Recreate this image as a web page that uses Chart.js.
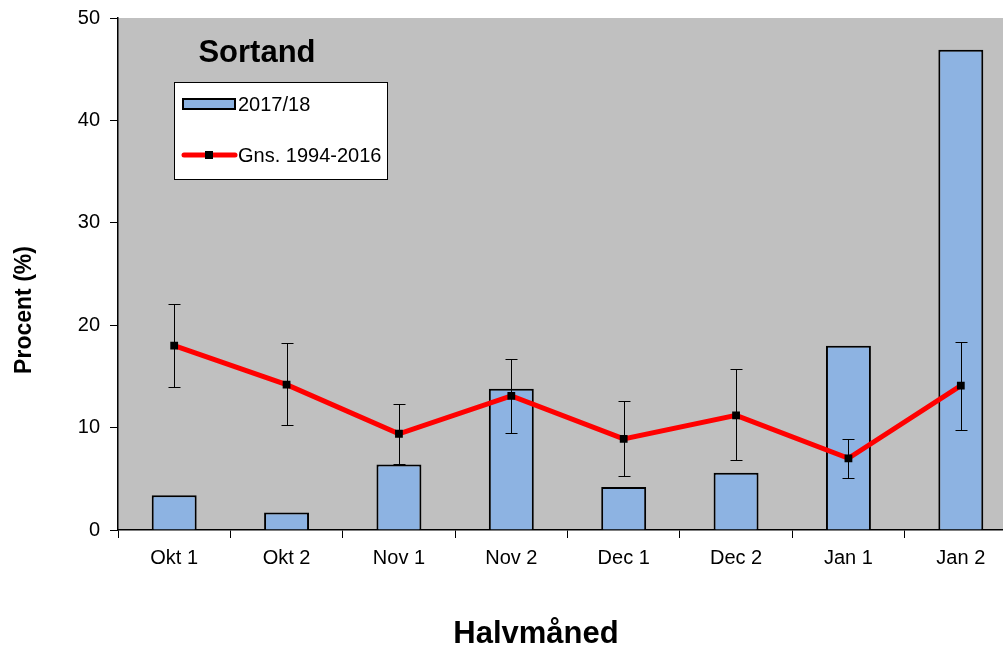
<!DOCTYPE html>
<html>
<head>
<meta charset="utf-8">
<script src="https://cdn.jsdelivr.net/npm/chart.js@4.4.1/dist/chart.umd.min.js"></script>
<style>
html,body{margin:0;padding:0;background:#fff;overflow:hidden;}
#wrap{width:1003px;height:647px;overflow:hidden;position:relative;}
#c{position:absolute;left:0;top:0;}
</style>
</head>
<body>
<div id="wrap"><canvas id="c" width="1017" height="647" style="width:1017px;height:647px"></canvas></div>
<script>
const categories = ['Okt 1','Okt 2','Nov 1','Nov 2','Dec 1','Dec 2','Jan 1','Jan 2'];
const bars2017 = [3.4, 1.7, 6.4, 13.8, 4.2, 5.6, 18.0, 46.9];
const avg19942016 = [18.0, 14.2, 9.4, 13.1, 8.9, 11.2, 7.0, 14.1];
const errHigh = [22.1, 18.3, 12.3, 16.7, 12.6, 15.7, 8.9, 18.4];
const errLow = [14.0, 10.3, 6.4, 9.5, 5.3, 6.8, 5.1, 9.8];
const yTicks = [0, 10, 20, 30, 40, 50];
const seriesNames = ['2017/18', 'Gns. 1994-2016'];
const chartTitle = 'Sortand';
const xTitle = 'Halvmåned';
const yTitle = 'Procent (%)';

const FONT = '"Liberation Sans", Arial, sans-serif';
const BAR_COLOR = '#8DB3E2';

const bgPlugin = {
  id: 'bg',
  beforeDraw(chart) {
    const {ctx, chartArea: a} = chart;
    ctx.save();
    ctx.fillStyle = '#C0C0C0';
    ctx.fillRect(a.left, a.top, a.right - a.left, a.bottom - a.top);
    ctx.restore();
  }
};

const errPlugin = {
  id: 'errbars',
  afterDatasetDraw(chart, args) {
    if (args.index !== 1) return;
    const {ctx} = chart;
    const xs = chart.scales.x, ys = chart.scales.y;
    ctx.save();
    ctx.strokeStyle = '#000';
    ctx.lineWidth = 1;
    categories.forEach((c, i) => {
      const x = Math.round(xs.getPixelForValue(i)) + 0.5;
      const yh = Math.round(ys.getPixelForValue(errHigh[i])) + 0.5;
      const yl = Math.round(ys.getPixelForValue(errLow[i])) + 0.5;
      ctx.beginPath();
      ctx.moveTo(x, yh); ctx.lineTo(x, yl);
      ctx.moveTo(x - 6, yh); ctx.lineTo(x + 6, yh);
      ctx.moveTo(x - 6, yl); ctx.lineTo(x + 6, yl);
      ctx.stroke();
    });
    ctx.restore();
  }
};

const overlayPlugin = {
  id: 'overlay',
  afterDraw(chart) {
    const {ctx} = chart;
    ctx.save();
    // title
    ctx.fillStyle = '#000';
    ctx.font = 'bold 31px ' + FONT;
    ctx.textAlign = 'center';
    ctx.textBaseline = 'middle';
    ctx.fillText(chartTitle, 257, 53);
    // axis titles
    ctx.font = 'bold 31px ' + FONT;
    ctx.fillText(xTitle, 536, 634);
    ctx.save();
    ctx.translate(25, 310);
    ctx.rotate(-Math.PI / 2);
    ctx.font = 'bold 23px ' + FONT;
    ctx.fillText(yTitle, 0, 0);
    ctx.restore();
    // legend box
    ctx.fillStyle = '#fff';
    ctx.fillRect(174, 82, 213, 97);
    ctx.strokeStyle = '#000';
    ctx.lineWidth = 1;
    ctx.strokeRect(174.5, 82.5, 213, 97);
    // bar swatch
    ctx.fillStyle = BAR_COLOR;
    ctx.fillRect(183, 99, 52, 10);
    ctx.lineWidth = 2;
    ctx.strokeStyle = '#000';
    ctx.strokeRect(183, 99, 52, 10);
    // line swatch
    ctx.strokeStyle = '#FF0000';
    ctx.lineWidth = 5;
    ctx.lineCap = 'round';
    ctx.beginPath();
    ctx.moveTo(184, 155); ctx.lineTo(235, 155);
    ctx.stroke();
    ctx.fillStyle = '#000';
    ctx.fillRect(205, 151, 8, 8);
    // texts
    ctx.font = '20px ' + FONT;
    ctx.textAlign = 'left';
    ctx.fillText(seriesNames[0], 238, 105);
    ctx.fillText(seriesNames[1], 238, 156);
    ctx.restore();
  }
};

new Chart(document.getElementById('c'), {
  type: 'bar',
  data: {
    labels: categories,
    datasets: [
      {
        type: 'bar',
        label: seriesNames[0],
        data: bars2017,
        backgroundColor: BAR_COLOR,
        borderColor: '#000',
        borderWidth: 2,
        barPercentage: 0.40,
        categoryPercentage: 1.0,
        order: 2
      },
      {
        type: 'line',
        label: seriesNames[1],
        data: avg19942016,
        borderColor: '#FF0000',
        borderWidth: 5,
        pointStyle: 'rect',
        pointRadius: 5.5,
        pointBackgroundColor: '#000',
        pointBorderColor: '#000',
        pointBorderWidth: 0,
        tension: 0,
        order: 1
      }
    ]
  },
  options: {
    responsive: false,
    animation: false,
    devicePixelRatio: 1,
    layout: {autoPadding: false, padding: {top: 18, left: 0, right: 0, bottom: 0}},
    plugins: {legend: {display: false}, tooltip: {enabled: false}},
    scales: {
      x: {
        grid: {display: true, drawOnChartArea: false, drawTicks: true, tickLength: 8, color: '#000', offset: true},
        border: {display: true, color: '#000', width: 1.5},
        ticks: {color: '#000', font: {family: FONT, size: 20}, padding: 8, maxRotation: 0},
        title: {display: false, text: xTitle},
        afterFit(s) { s.height = 117; s.paddingLeft = 0; s.paddingRight = 0; }
      },
      y: {
        min: 0, max: 50,
        afterBuildTicks(s) { s.ticks = yTicks.map(v => ({value: v})); },
        grid: {display: true, drawOnChartArea: false, drawTicks: true, tickLength: 8, color: '#000'},
        border: {display: true, color: '#000', width: 1.5},
        ticks: {color: '#000', font: {family: FONT, size: 20}, padding: 10},
        title: {display: false, text: yTitle},
        afterFit(s) { s.width = 118; s.paddingTop = 0; s.paddingBottom = 0; }
      }
    }
  },
  plugins: [bgPlugin, errPlugin, overlayPlugin]
});
</script>
</body>
</html>
